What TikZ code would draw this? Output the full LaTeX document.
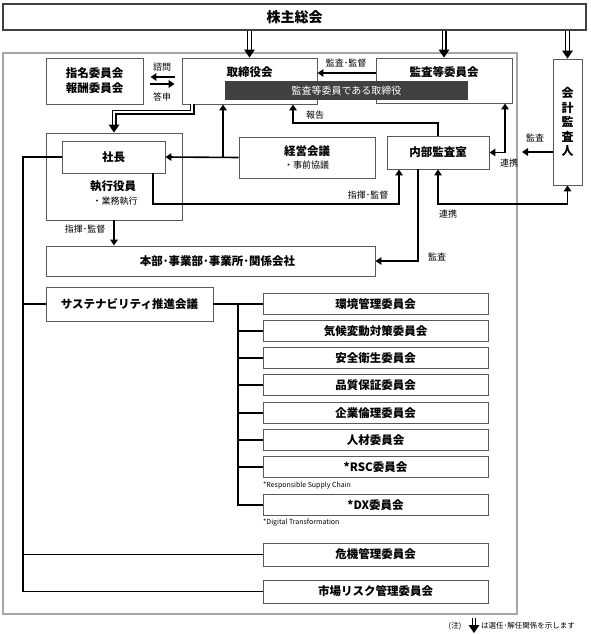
\documentclass[tikz,border=0pt]{standalone}
\usepackage{fontspec}
\setmainfont{Noto Sans CJK JP}
\usetikzlibrary{positioning,calc,arrows.meta,decorations.markings}

\tikzset{
  box/.style={draw=black!65, line width=0.9pt, fill=white, inner sep=0pt,
    font=\bfseries\fontsize{11.5}{15}\selectfont},
  cbox/.style={box, minimum width=225, minimum height=21},
  boxtxt/.style={inner sep=0pt, font=\bfseries\fontsize{11.5}{15}\selectfont},
  lab/.style={inner sep=0pt, font=\fontsize{9}{11}\selectfont},
  foot/.style={inner sep=0pt, font=\fontsize{7}{9}\selectfont},
  wire/.style={line width=1.6pt},
  conn/.style={line width=1.6pt, -{Triangle[length=6pt,width=7.5pt]}},
  conn2/.style={line width=1.6pt, {Triangle[length=6pt,width=7.5pt]}-{Triangle[length=6pt,width=7.5pt]}},
  elect/.style={double, double distance=2.2pt, line width=1.4pt, shorten >=6pt,
    postaction={decorate, decoration={markings,
      mark=at position 1 with {\fill[black] (0,0) -- (-8pt,5.5pt) -- (-8pt,-5.5pt) -- cycle;}}}}
}

\begin{document}
\begin{tikzpicture}[x=1pt, y=-1pt]
    \useasboundingbox (0,0) rectangle (590,634);

    % General meeting
    \node[box, draw=black!75, line width=2.4pt, minimum width=583, minimum height=26,
          font=\bfseries\fontsize{14}{16}\selectfont] (kabu) at (294.5,17) {株主総会};

    % outer frame
    \draw[black!35, line width=1.5pt] (3,53) rectangle (517,614);

    % top row
    \node[box, minimum width=97, minimum height=46, align=center] (shimei) at (94.5,81) {指名委員会\\報酬委員会};
    \node[box, minimum width=135, minimum height=46] (tori) at (249.5,81) {};
    \node[boxtxt, below=9pt of tori.north] (toritxt) {取締役会};
    \node[box, minimum width=136, minimum height=45] (kansa) at (444,80.5) {};
    \node[boxtxt, below=9pt of kansa.north] (kansatxt) {監査等委員会};
    \node[fill=black!75, text=white!85, minimum width=243, minimum height=19, inner sep=0pt,
          font=\fontsize{10}{11}\selectfont] (bar) at (346.5,90.5) {監査等委員である取締役};
    \node[box, minimum width=29, minimum height=126, align=center,
          font=\bfseries\fontsize{12}{14.5}\selectfont] (kaikei) at (567.5,122) {会\\計\\監\\査\\人};

    % president and executives
    \node[box, minimum width=136, minimum height=87] (exec) at (114,176.5) {};
    \node[box, minimum width=103, minimum height=32] (shacho) at (113.5,157) {社長};
    \node[boxtxt] (shikko) at (113,186) {執行役員};
    \node[lab] (gyomu) at (115,201) {・業務執行};
    \node[box, minimum width=136, minimum height=41, align=left] (keiei) at (307,157.5)
        {経営会議\\[-2pt]{\mdseries\fontsize{9}{11}\selectfont ・事前協議}};
    \node[box, minimum width=102, minimum height=33] (naibu) at (438,152.5) {内部監査室};
    \node[box, minimum width=329, minimum height=30] (honbu) at (210.5,261) {\hspace*{14pt}本部･事業部･事業所･関係会社};

    % sustainability
    \node[box, minimum width=167, minimum height=34] (sus) at (129.5,304) {サステナビリティ推進会議};
    \foreach \n/\y/\t in {1/304/環境管理委員会, 2/331/気候変動対策委員会, 3/358/安全衛生委員会,
                          4/385/品質保証委員会, 5/413/企業倫理委員会, 6/440/人材委員会,
                          7/467/*RSC委員会, 8/505/*DX委員会} {
        \node[cbox] (c\n) at (375.5,\y) {\t};
    }
    \node[foot, anchor=west] (rscnote) at (263,486) {*Responsible Supply Chain};
    \node[foot, anchor=west] (dxnote) at (263,523) {*Digital Transformation};
    \node[cbox, minimum height=23] (kiki) at (375.5,554.5) {危機管理委員会};
    \node[cbox, minimum height=23] (shijo) at (375.5,591.5) {市場リスク管理委員会};

    % election arrows
    \draw[elect] (kabu.south -| tori.north) -- (tori.north);
    \draw[elect] (kabu.south -| kansa.north) -- (kansa.north);
    \draw[elect] (kabu.south -| kaikei.north) -- (kaikei.north);
    \coordinate (tk) at (192,112);
    \draw[elect] (tk |- tori.south) -- (tk) -| (exec.north);

    % consultation
    \draw[conn, shorten <=7pt, shorten >=7pt] ([yshift=4]tori.west) -- ([yshift=4]shimei.east);
    \draw[conn, shorten <=7pt, shorten >=7pt] ([yshift=-3]shimei.east) -- ([yshift=-3]tori.west);
    \node[lab] (shimon) at (162,67) {諮問};
    \node[lab] (toshin) at (162,97) {答申};

    % audit and supervision
    \coordinate (kk) at ([yshift=7.5]kansa.west);
    \draw[conn] (kk) -- (kk -| tori.east);
    \node[lab] (kkl) at (346,63) {監査･監督};

    % report
    \coordinate (hk) at (293,123);
    \draw[conn] (naibu.north) |- (hk) -- (hk |- tori.south);
    \node[lab] (hkl) at (315,115) {報告};

    % management meeting
    \coordinate (kj) at (223,157);
    \draw[conn] (keiei.west) -- (shacho.east);
    \draw[conn] (kj) -- (kj |- tori.south);

    % direction to internal audit
    \coordinate (sk) at (153,204);
    \draw[conn] (sk |- shacho.south) -- (sk) -| ([xshift=-39]naibu.south);
    \node[lab] (skl) at (368,195) {指揮･監督};

    % cooperation
    \draw[conn2] (naibu.east) -| ([xshift=61]kansa.south);
    \node[lab] (rk1) at (509,163) {連携};
    \coordinate (kk2) at (522,152);
    \draw[conn] (kk2 -| kaikei.west) -- (kk2);
    \node[lab] (kk2l) at (535,138) {監査};
    \coordinate (rk) at (438,204);
    \draw[conn2] (naibu.south) -- (rk) -| (kaikei.south);
    \node[lab] (rk2) at (448,214) {連携};

    % to divisions
    \draw[conn] (exec.south) -- (exec.south |- honbu.north);
    \node[lab] (hsl) at (85,229) {指揮･監督};
    \draw[conn] ([xshift=-20]naibu.south) |- (honbu.east);
    \node[lab] (hkl2) at (437,257) {監査};

    % left bus
    \coordinate (busx) at (23,0);
    \draw[wire] (shacho.west) -- (shacho.west -| busx) |- (shijo.west);
    \draw[wire] (sus.west -| busx) -- (sus.west);
    \draw[wire] (kiki.west -| busx) -- (kiki.west);

    % committee bus
    \coordinate (subx) at (238,0);
    \draw[wire] (sus.east) -- (c1.west);
    \draw[wire] (c1.west -| subx) |- (c8.west);
    \foreach \n in {2,...,7} {
        \draw[wire] (c\n.west -| subx) -- (c\n.west);
    }

    % note
    \node[foot, font=\fontsize{7.5}{9}\selectfont] (note1) at (455,626) {(注)};
    \coordinate (na) at (474,618);
    \coordinate (nb) at (474,633);
    \draw[elect, line width=0.9pt, double distance=1.6pt, shorten >=4pt] (na) -- (nb);
    \node[foot, anchor=west, font=\fontsize{7.5}{9}\selectfont] (note2) at (481,626) {は選任･解任関係を示します};
\end{tikzpicture}
\end{document}
